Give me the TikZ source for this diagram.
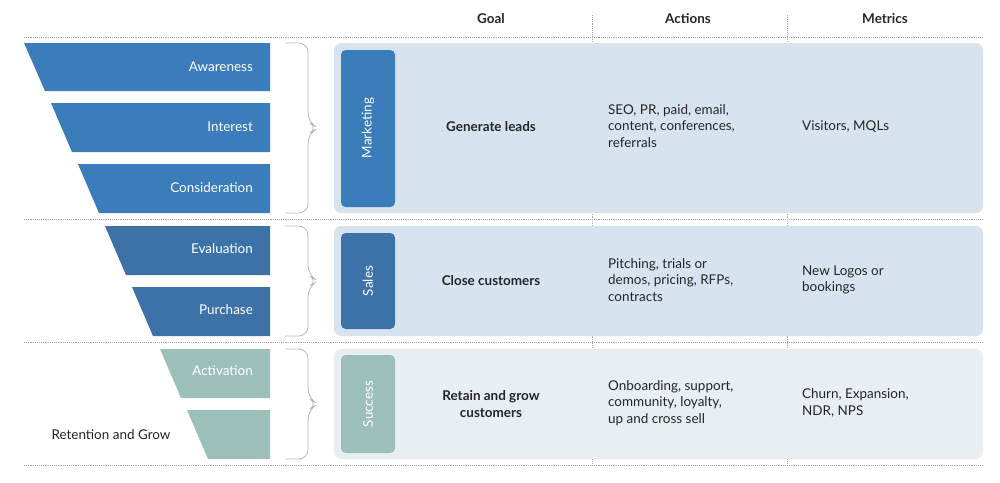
\documentclass[tikz,border=0pt]{standalone}
\usepackage{fontspec}
\setmainfont{Lato}
\begin{document}
\begin{tikzpicture}[x=0.3mm,y=-0.3mm,
 trap/.style={draw=none},
 lab/.style={text=white,font=\fontsize{11.5}{13}\selectfont,anchor=east},
 txt/.style={font=\fontsize{11.5}{14}\selectfont,text=black!85,align=left,anchor=west},
 goal/.style={font=\bfseries\fontsize{11.5}{14}\selectfont,text=black!85,align=center},
 hdr/.style={font=\bfseries\fontsize{11.5}{14}\selectfont,text=black!85},
 sep/.style={gray!70,densely dotted,line width=0.6pt},
 brace/.style={gray!55,line width=0.7pt,rounded corners=8pt}]
\definecolor{mblue}{HTML}{3B7CBA}
\definecolor{sblue}{HTML}{3D72A9}
\definecolor{teal}{HTML}{9CBFBA}
\definecolor{pblue}{HTML}{D7E4EF}
\definecolor{pteal}{HTML}{E7EFF0}
\useasboundingbox (0,0) rectangle (1000,482);
% separators
\foreach \y in {37,219,342,465} \draw[sep] (24,\y) -- (982,\y);
\foreach \x in {592,787} \draw[sep] (\x,15) -- (\x,465);
\node[hdr] (hg) at (491,19) {Goal};
\node[hdr] (ha) at (688,19) {Actions};
\node[hdr] (hm) at (885,19) {Metrics};
% funnel
\fill[mblue] (24,43) -- (270,43) -- (270,91) -- (45,91) -- cycle;
\fill[mblue] (51,103) -- (270,103) -- (270,152) -- (72,152) -- cycle;
\fill[mblue] (78,164) -- (270,164) -- (270,213) -- (99,213) -- cycle;
\fill[sblue] (105,226) -- (270,226) -- (270,275) -- (126,275) -- cycle;
\fill[sblue] (132,287) -- (270,287) -- (270,336) -- (153,336) -- cycle;
\fill[teal] (160,349) -- (270,349) -- (270,398) -- (181,398) -- cycle;
\fill[teal] (187,410) -- (270,410) -- (270,459) -- (208,459) -- cycle;
\node[lab] (aw) at (257,67) {Awareness};
\node[lab] (in) at (257,127) {Interest};
\node[lab] (co) at (257,188) {Consideration};
\node[lab] (ev) at (257,249) {Evaluation};
\node[lab] (pu) at (257,310) {Purchase};
\node[lab] (ac) at (257,371) {Activation};
\node[font=\fontsize{11.5}{13}\selectfont,text=black!85] (rg) at (111,435) {Retention and Grow};
% braces
\foreach \a/\b in {43/213,226/336,349/459}{
 \draw[brace] (285,\a) -- (308,\a) -- (308,{(\a+\b)/2-6}) -- (318,{(\a+\b)/2}) -- (308,{(\a+\b)/2+6}) -- (308,\b) -- (285,\b);}
% panels
\fill[pblue,rounded corners=6pt] (334,43) rectangle (983,213);
\fill[pblue,rounded corners=6pt] (334,226) rectangle (983,336);
\fill[pteal,rounded corners=6pt] (334,349) rectangle (983,459);
\fill[mblue,rounded corners=4pt] (341,50) rectangle (395,207);
\fill[sblue,rounded corners=4pt] (341,233) rectangle (395,329);
\fill[teal,rounded corners=4pt] (341,355) rectangle (395,453);
\node[rotate=90,text=white,font=\fontsize{11.5}{13}\selectfont] (mk) at (368,128) {Marketing};
\node[rotate=90,text=white,font=\fontsize{11.5}{13}\selectfont] (sa) at (368,281) {Sales};
\node[rotate=90,text=white,font=\fontsize{11.5}{13}\selectfont] (su) at (368,404) {Success};
\node[goal] (g1) at (491,127) {Generate leads};
\node[goal] (g2) at (491,281) {Close customers};
\node[goal] (g3) at (491,404) {Retain and grow\\customers};
\node[txt] (a1) at (604,126) {SEO, PR, paid, email,\\content, conferences,\\referrals};
\node[txt] (a2) at (604,280) {Pitching, trials or\\demos, pricing, RFPs,\\contracts};
\node[txt] (a3) at (604,403) {Onboarding, support,\\community, loyalty,\\up and cross sell};
\node[txt] (m1) at (798,127) {Visitors, MQLs};
\node[txt] (m2) at (798,280) {New Logos or\\bookings};
\node[txt] (m3) at (798,403) {Churn, Expansion,\\NDR, NPS};
\end{tikzpicture}
\end{document}
